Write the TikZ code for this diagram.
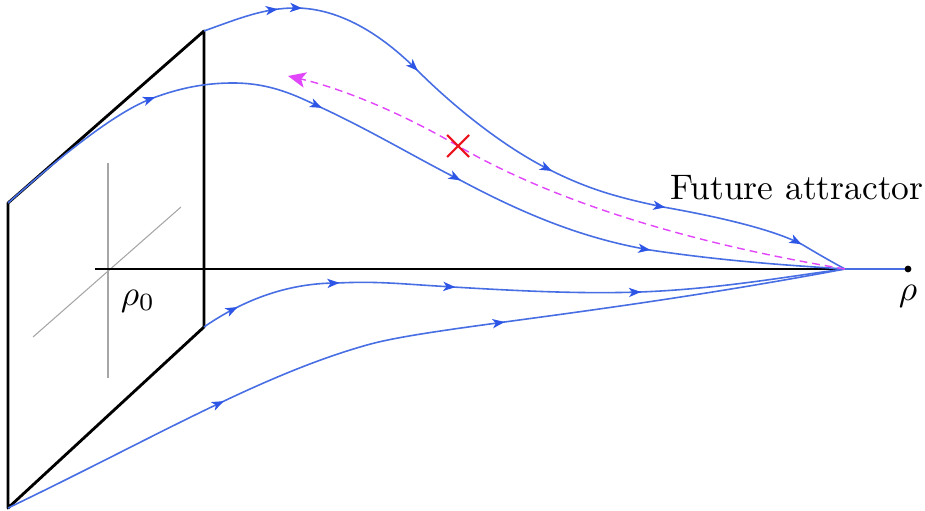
\documentclass[tikz,border=0pt]{standalone}
\usepackage{amsmath,amssymb}
\usepackage{xcolor}
\definecolor{flowblue}{RGB}{72, 110, 228}
\definecolor{tipblue}{RGB}{45, 85, 230}
\definecolor{orbitmagenta}{RGB}{226, 70, 250}
\definecolor{crossred}{RGB}{235, 20, 30}
\usepackage{tikz}
\usetikzlibrary{arrows.meta, positioning, calc, decorations.markings}

\tikzset{
    flow/.style={flowblue, line width=0.45pt, postaction={decorate},
        decoration={markings, flowmark/.list={#1}}},
    /pgf/decoration/flowmark/.style={mark=at position #1 with {\arrow[tipblue]{Stealth[length=3.4pt, width=2.6pt, inset=0.9pt]}}}
}

\begin{document}
\begin{tikzpicture}[x=0.282pt, y=-0.282pt, >=Stealth]
    \useasboundingbox (0,0) rectangle (925,511);
    % initial surface and axis
    \coordinate (A) at (8,203);
    \coordinate (B) at (204,31);
    \coordinate (C) at (204,327);
    \coordinate (D) at (8,508);
    \coordinate (F) at (845,269);
    \coordinate (axL) at (95,269);
    \coordinate (axR) at (908,269);
    \draw[gray!70, line width=0.3pt] (108,163) -- (108,378);
    \draw[gray!70, line width=0.3pt] (33,337) -- (181,207);
    \draw[thick, line join=round] (A) -- (B) -- (C) -- (D) -- cycle;
    \draw[semithick] (axL) -- (F);
    \draw[flowblue, line width=0.45pt] (F) -- (axR);
    \fill (axR) circle (3.4);
    \node[below=1pt] (rho) at (axR) {$\rho$};
    \node (rho0) at (138,301) {$\rho_0$};
    \node (fut) at (797,188) {Future attractor};
    % trajectories
    \draw[flow={0.108,0.142,0.33,0.565,0.732,0.93}] (B)
        .. controls (240,18) and (265,8) .. (295,8)
        .. controls (340,8) and (382,35) .. (417,70)
        .. controls (450,103) and (500,145) .. (550,170)
        .. controls (590,190) and (620,198) .. (663,207)
        .. controls (720,217) and (775,230) .. (803,245)
        .. controls (818,254) and (832,262) .. (F);
    \draw[flow={0.2,0.39,0.562,0.785}] (A)
        .. controls (60,157) and (115,112) .. (153,98)
        .. controls (180,88) and (205,83) .. (233,83)
        .. controls (270,83) and (295,95) .. (320,107)
        .. controls (370,130) and (420,160) .. (460,180)
        .. controls (520,212) and (580,238) .. (650,250)
        .. controls (730,262) and (800,266) .. (F);
    \draw[flow={0.06,0.222,0.4,0.685}] (C)
        .. controls (240,302) and (285,283) .. (337,283)
        .. controls (380,281) and (400,284) .. (453,287)
        .. controls (520,291) and (580,294) .. (640,292)
        .. controls (720,289) and (790,276) .. (F);
    \draw[flow={0.274,0.608}] (D)
        .. controls (150,440) and (260,375) .. (367,345)
        .. controls (430,327) and (600,315) .. (F);
    % unstable orbit
    \coordinate (X) at (458,146);
    \coordinate (M) at (288,76);
    \draw[orbitmagenta, line width=0.4pt, dash pattern=on 2.2pt off 1.4pt,
        -{Stealth[length=5pt, width=4.4pt, inset=1.2pt, sep=0pt]}] (F)
        .. controls (700,245) and (560,205) .. (X)
        .. controls (400,112) and (340,88) .. (M);
    \draw[crossred, line width=0.6pt] ($(X)+(-11,-11)$) -- ($(X)+(11,11)$);
    \draw[crossred, line width=0.6pt] ($(X)+(-11,11)$) -- ($(X)+(11,-11)$);
\end{tikzpicture}
\end{document}
